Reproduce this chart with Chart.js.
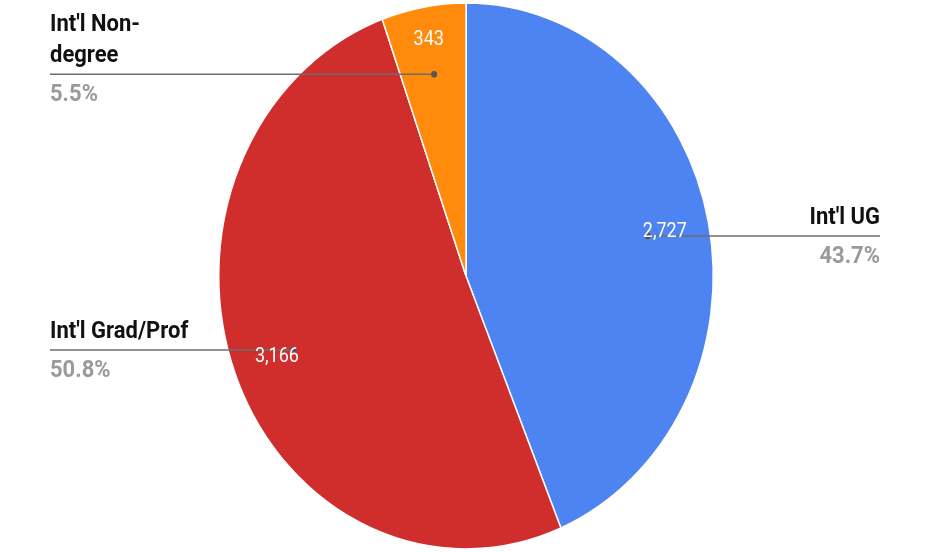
<!DOCTYPE html>
<html>
<head>
<meta charset="utf-8">
<script src="https://cdn.jsdelivr.net/npm/chart.js@4.4.1/dist/chart.umd.min.js"></script>
<style>
  html, body { margin: 0; padding: 0; background: #fff; overflow: hidden; }
  #wrap { width: 951px; height: 552px; }
</style>
</head>
<body>
<div id="wrap"><canvas id="pieChart"></canvas></div>
<script>
//Datos del gráfico
var categorias = ["Int'l UG", "Int'l Grad/Prof", "Int'l Non-degree"];
var valores = [2727, 3166, 343];
var colores = ['#4e83f2', '#cf2e2c', '#ff8a0b'];

var total = valores.reduce(function(a, b) { return a + b; }, 0);
var estiramiento = 1.104; // la imagen original está estirada en vertical

//Partir el texto largo en dos líneas
function partirTexto(ctx, texto, maxAncho) {
    if (ctx.measureText(texto).width <= maxAncho) return [texto];
    var i = texto.lastIndexOf('-');
    if (i > 0) return [texto.slice(0, i + 1), texto.slice(i + 1)];
    i = texto.lastIndexOf(' ');
    return [texto.slice(0, i), texto.slice(i + 1)];
}

//Etiquetas con líneas guía
var etiquetas = {
    id: 'etiquetas',
    beforeDatasetsDraw: function(chart) {
        chart.ctx.save();
        chart.ctx.scale(1, estiramiento);
    },
    afterDatasetsDraw: function(chart) {
        var ctx = chart.ctx;
        var meta = chart.getDatasetMeta(0);
        meta.data.forEach(function(arc, i) {
            var p = arc.getProps(['x', 'y', 'startAngle', 'endAngle', 'outerRadius'], true);
            var medio = (p.startAngle + p.endAngle) / 2;
            var R = p.outerRadius;
            var px = p.x + Math.cos(medio) * R * 0.75;
            var py = p.y + Math.sin(medio) * R * 0.75;
            var izquierda = px < p.x;
            var xTexto = izquierda ? 50 : 880;

            //línea y punto
            ctx.strokeStyle = '#6e6e6e';
            ctx.lineWidth = 1.4;
            ctx.beginPath();
            ctx.moveTo(xTexto, py);
            ctx.lineTo(px, py);
            ctx.stroke();
            ctx.fillStyle = '#555';
            ctx.beginPath();
            ctx.arc(px, py, 3, 0, Math.PI * 2);
            ctx.fill();

            //valor dentro del sector
            var f = (p.endAngle - p.startAngle) < 0.5 ? 0.877 : 0.82;
            ctx.font = '18px Roboto, Arial, sans-serif';
            ctx.fillStyle = '#fff';
            ctx.textAlign = 'center';
            ctx.textBaseline = 'middle';
            ctx.fillText(valores[i].toLocaleString('en-US'),
                p.x + Math.cos(medio) * R * f, p.y + Math.sin(medio) * R * f);

            //nombre y porcentaje
            ctx.textAlign = izquierda ? 'left' : 'right';
            ctx.textBaseline = 'alphabetic';
            ctx.font = 'bold 22px Roboto, Arial, sans-serif';
            ctx.fillStyle = '#111';
            var lineas = partirTexto(ctx, categorias[i], 150);
            for (var k = 0; k < lineas.length; k++) {
                ctx.fillText(lineas[k], xTexto, py - 11 - (lineas.length - 1 - k) * 28);
            }
            ctx.fillStyle = '#9a9a9a';
            ctx.fillText((valores[i] / total * 100).toFixed(1) + '%', xTexto, py + 24.5);
        });
        ctx.restore();
    }
};

var ctx = document.getElementById('pieChart').getContext('2d');
var miGrafico = new Chart(ctx, {
    type: 'pie',
    data: {
        labels: categorias,
        datasets: [{
            data: valores,
            backgroundColor: colores,
            borderColor: '#fff',
            borderWidth: 1.5
        }]
    },
    options: {
        responsive: true,
        maintainAspectRatio: false,
        animation: false,
        layout: { padding: { left: 218, right: 237, top: 2, bottom: 54 } },
        plugins: {
            legend: { display: false },
            tooltip: { enabled: false }
        }
    },
    plugins: [etiquetas]
});
</script>
</body>
</html>
